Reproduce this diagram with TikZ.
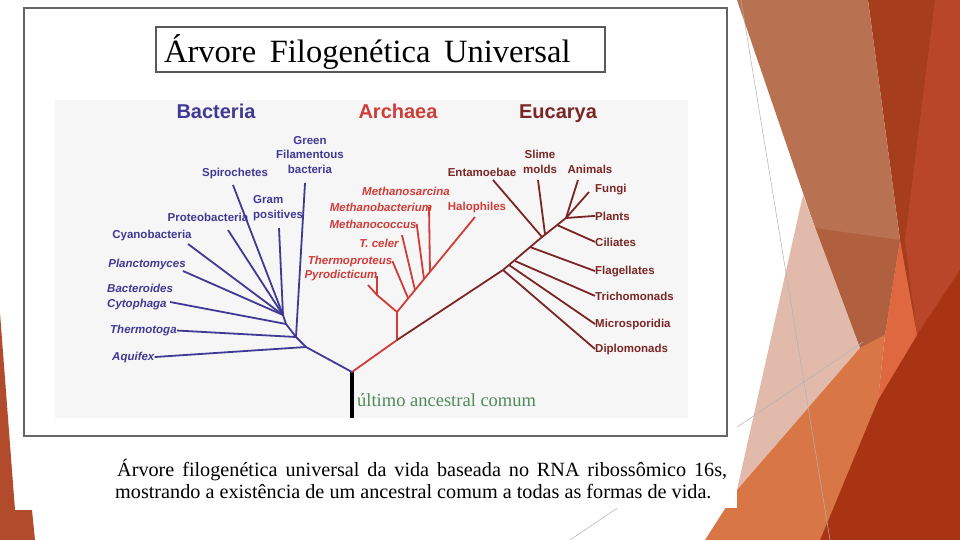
\documentclass[tikz,border=0pt]{standalone}
\usepackage{fontspec}
\setmainfont{Liberation Serif}
\newfontfamily\arialfont{Liberation Sans}
\usepackage{xcolor}
\usetikzlibrary{positioning}

\definecolor{bactblue}{RGB}{64,58,148}
\definecolor{archred}{RGB}{208,60,56}
\definecolor{eucbrown}{RGB}{122,38,38}
\definecolor{ancgreen}{RGB}{78,138,92}
\definecolor{panelbg}{RGB}{246,246,246}
\definecolor{facetleft}{RGB}{178,74,44}
\definecolor{facettan}{RGB}{184,114,82}
\definecolor{facettanb}{RGB}{176,96,62}
\definecolor{facetdark}{RGB}{166,62,30}
\definecolor{facetred}{RGB}{186,70,42}
\definecolor{facetdeep}{RGB}{168,52,20}
\definecolor{facetpink}{RGB}{226,186,172}
\definecolor{facetorange}{RGB}{216,118,70}
\definecolor{facetbright}{RGB}{224,104,64}

\tikzset{
  leaf/.style={inner sep=0pt, anchor=base, font=\arialfont\bfseries\fontsize{11.5}{14.5}\selectfont},
  ileaf/.style={leaf, font=\arialfont\bfseries\itshape\fontsize{11.5}{14.5}\selectfont},
  domainlabel/.style={inner sep=0pt, anchor=base, font=\arialfont\bfseries\fontsize{20}{22}\selectfont},
  captionline/.style={anchor=base west, inner sep=0pt, font=\fontsize{20.2}{22}\selectfont},
  bline/.style={bactblue, line width=1.8pt},
  aline/.style={archred, line width=1.8pt},
  eline/.style={eucbrown, line width=1.8pt}
}

\begin{document}
\begin{tikzpicture}[x=1pt,y=-1pt]
\useasboundingbox (0,0) rectangle (960,540);

% slide facets
\fill[white] (0,0) rectangle (960,540);
\fill[facetleft] (0,313) -- (15,510) -- (32,510) -- (35,540) -- (0,540) -- cycle;
\fill[facetdark] (868,0) -- (960,0) -- (960,540) -- (800,540) -- (878,400) -- (900,240) -- cycle;
\fill[facetred] (935,0) -- (960,0) -- (960,270) -- (917,335) -- (905,240) -- cycle;
\fill[facetdeep] (820,540) -- (878,400) -- (917,335) -- (960,270) -- (960,540) -- cycle;
\fill[facettan] (737,0) -- (868,0) -- (900,240) -- (885,335) -- (860,348) -- (815,228) -- cycle;
\fill[facettanb] (815,228) -- (900,240) -- (885,335) -- (860,348) -- cycle;
\fill[facetpink] (803,195) -- (860,348) -- (737,490) -- cycle;
\fill[facetorange] (737,490) -- (860,348) -- (885,335) -- (878,400) -- (820,540) -- (705,540) -- cycle;
\fill[facetbright] (900,240) -- (917,335) -- (878,400) -- (885,335) -- cycle;
\draw[gray!60, line width=0.5pt] (741,0) -- (830,540);
\draw[gray!60, line width=0.5pt] (863,342) -- (570,540);

% picture
\fill[white] (15,0) rectangle (737,508);
\draw[gray!80!black, line width=1.2pt] (24,8) rectangle (727,436);
\draw[gray!70!black, line width=1.2pt] (156,27) rectangle (605,72);
\node[anchor=base west, inner sep=0pt, font=\fontsize{32.5}{34}\selectfont] (title) at (164,63)
  {Árvore\hspace{0.42em}Filogenética\hspace{0.42em}Universal};
\fill[panelbg] (55,100) rectangle (688,418);

% domains
\node[domainlabel, bactblue] (bacteria) at (216,118.5) {Bacteria};
\node[domainlabel, archred] (archaea) at (398,118.5) {Archaea};
\node[domainlabel, eucbrown] (eucarya) at (558,118.5) {Eucarya};

% root
\coordinate (root) at (352,372);
\coordinate (base) at (352,418);
\draw[black, line width=3.5pt] (base) -- (root);
\node[anchor=base west, inner sep=0pt, ancgreen, font=\fontsize{18.5}{20}\selectfont] (ancestor) at (357,406) {último ancestral comum};

% Bacteria
\node[leaf, bactblue, anchor=center, align=center] (green) at (310,155) {Green\\Filamentous\\bacteria};
\node[leaf, bactblue] (spiro) at (235,177) {Spirochetes};
\node[leaf, bactblue, align=left, anchor=west] (gram) at (253,208) {Gram\\positives};
\node[leaf, bactblue] (proteo) at (208,221) {Proteobacteria};
\node[leaf, bactblue] (cyano) at (152,238) {Cyanobacteria};
\node[ileaf, bactblue] (plancto) at (147,267) {Planctomyces};
\node[ileaf, bactblue, align=left, anchor=west] (bactero) at (107,297) {Bacteroides\\Cytophaga};
\node[ileaf, bactblue, anchor=base west] (thermotoga) at (110,333.5) {Thermotoga};
\node[ileaf, bactblue, anchor=base west] (aquifex) at (112,360) {Aquifex};

\coordinate (bA) at (306,347);
\coordinate (bT) at (296,337);
\coordinate (bC) at (286,324);
\coordinate (bH) at (283,315);
\coordinate (tGreen) at (305,183);
\coordinate (tSpiro) at (233,185);
\coordinate (tGram) at (279,228);
\coordinate (tProteo) at (228,230);
\coordinate (tCyano) at (188,244);
\coordinate (tPlancto) at (183,271);
\coordinate (tCyto) at (170,302);

\draw[bline] (root) -- (bA) -- (bT) -- (bC) -- (bH);
\draw[bline] (aquifex.east) -- (bA);
\draw[bline] (thermotoga.east) -- (bT);
\draw[bline] (tCyto) -- (bC);
\draw[bline] (tGreen) -- (bT);
\foreach \t in {tSpiro,tGram,tProteo,tCyano,tPlancto}
  \draw[bline] (\t) -- (bH);

% Archaea
\node[ileaf, archred] (msarcina) at (406,195) {Methanosarcina};
\node[ileaf, archred] (mbact) at (381,211) {Methanobacterium};
\node[ileaf, archred] (mcoccus) at (373,228) {Methanococcus};
\node[ileaf, archred] (tceler) at (379,247) {T. celer};
\node[ileaf, archred] (tproteus) at (350,264) {Thermoproteus};
\node[ileaf, archred] (pyro) at (341,278) {Pyrodicticum};
\node[leaf, archred] (halo) at (477,210) {Halophiles};

\coordinate (aJ) at (397,340);
\coordinate (aS) at (397,312);
\coordinate (aP) at (377,295);
\coordinate (tHalo) at (475,217);
\coordinate (tPyro) at (377,276);
\coordinate (tPyroB) at (368,285);
\coordinate (tCeler) at (402,235);
\coordinate (tMbact) at (429,207);

\draw[aline] (root) -- (aJ) -- (aS) -- (tHalo);
\draw[aline] (tPyro) -- (aP) -- (aS);
\draw[aline] (tPyroB) -- (aP);
\draw[aline] (tproteus.east) -- (408,298);
\draw[aline] (tCeler) -- (415,290);
\draw[aline] (mcoccus.east) -- (424,279);
\draw[aline] (tMbact) -- (430,272);

% Eucarya
\node[leaf, eucbrown] (entamoebae) at (482,176) {Entamoebae};
\node[leaf, eucbrown, anchor=center, align=center] (slime) at (540,162) {Slime\\molds};
\node[leaf, eucbrown] (animals) at (590,174) {Animals};
\foreach \n/\txt/\y in {fungi/Fungi/193, plants/Plants/220, ciliates/Ciliates/246,
    flagellates/Flagellates/274, tricho/Trichomonads/300, micro/Microsporidia/327,
    diplo/Diplomonads/352}
  \node[leaf, eucbrown, anchor=base west] (\n) at (595,\y) {\txt};

\coordinate (eJ1) at (503,270);
\coordinate (eJ2) at (542,237);
\coordinate (eJ3) at (566,218);
\coordinate (tEnta) at (493,180);
\coordinate (tSlime) at (538,180);
\coordinate (tAnimals) at (578,180);
\coordinate (tFungi) at (589,192);

\draw[eline] (aJ) -- (eJ1) -- (eJ2) -- (eJ3);
\draw[eline] (tEnta) -- (eJ2);
\draw[eline] (tSlime) -- (545,234);
\draw[eline] (tAnimals) -- (eJ3);
\draw[eline] (tFungi) -- (eJ3);
\draw[eline] (plants.west) -- (eJ3);
\draw[eline] (ciliates.west) -- (557,225);
\draw[eline] (flagellates.west) -- (530,247);
\draw[eline] (tricho.west) -- (515,261);
\draw[eline] (micro.west) -- (509,265);
\draw[eline] (diplo.west) -- (eJ1);

% caption
\node[captionline] (caption) at (117,476)
  {\hbox to 610pt{Árvore filogenética universal da vida baseada no RNA ribossômico 16s,}};
\node[captionline] (caption2) at (115,498)
  {mostrando a existência de um ancestral comum a todas as formas de vida.};
\end{tikzpicture}
\end{document}
